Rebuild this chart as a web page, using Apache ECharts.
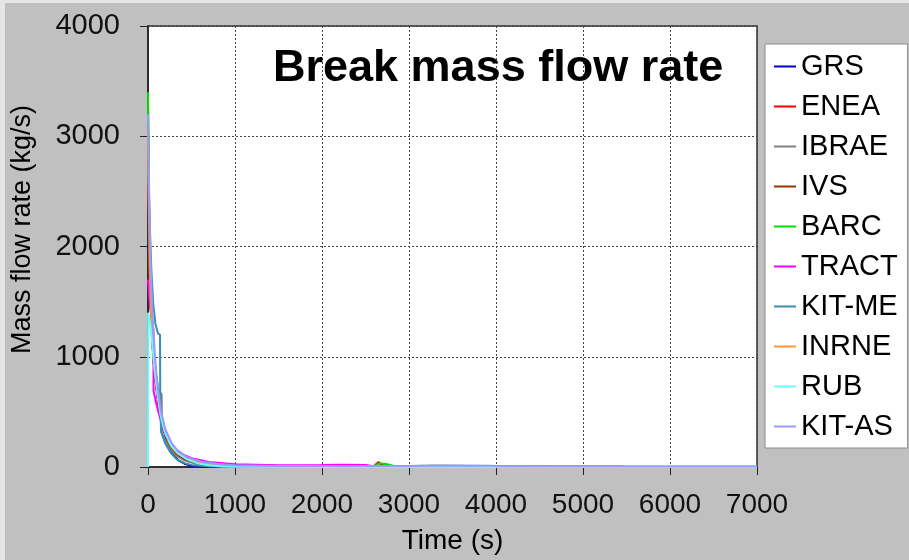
<!DOCTYPE html>
<html>
<head>
<meta charset="utf-8">
<script src="https://cdn.jsdelivr.net/npm/echarts@6/dist/echarts.min.js"></script>
<style>
  html, body { margin: 0; padding: 0; background: #c0c0c0; }
  #chart { width: 909px; height: 560px; }
</style>
</head>
<body>
<div id="chart"></div>
<script>
// time (s) / mass flow rate (kg/s) pairs
const GRS = [[0,3000],[6,2600],[14,2100],[26,1600],[45,1200],[70,900],[100,700],[130,520],[170,360],[220,220],[280,120],[350,60],[420,30],[500,12],[650,4],[1000,2],[2000,1],[4000,1],[6000,0],[7000,0]];
const ENEA = [[0,3100],[8,2500],[18,1900],[35,1400],[60,1000],[95,720],[130,500],[180,330],[250,200],[330,120],[420,75],[550,40],[750,18],[1000,10],[1500,6],[2000,8],[2400,10],[2600,12],[2650,45],[2680,20],[2800,5],[3200,3],[4000,2],[5000,1]];
const IBRAE = [[0,3300],[8,2700],[16,2100],[30,1600],[55,1150],[90,850],[120,700],[157,660],[160,300],[200,240],[260,160],[330,100],[420,60],[550,30],[750,12],[1000,6],[2000,5],[3000,8],[3300,14],[3600,12],[3700,6],[4500,4],[5500,3]];
const IVS = [[0,2900],[7,2300],[20,1700],[40,1250],[65,950],[100,700],[140,480],[190,320],[250,200],[330,120],[420,70],[550,35],[750,15],[1000,8],[2000,5],[3000,4],[4000,5],[4470,5],[5450,5]];
const BARC = [[0,3400],[3,3200],[10,2600],[22,2000],[40,1450],[65,1050],[100,760],[140,520],[190,350],[250,230],[330,150],[440,80],[560,45],[750,20],[1000,10],[1500,6],[2000,5],[2600,8],[2660,35],[2750,25],[2860,3],[3500,4],[4200,6],[4470,6],[4500,2]];
const TRACT = [[0,1700],[10,1600],[25,1450],[45,1320],[62,1250],[64,690],[100,560],[150,410],[200,290],[300,175],[400,115],[500,80],[700,45],[1000,24],[1500,15],[2000,18],[2200,20],[2500,18],[2600,6],[3000,4],[4000,3]];
const KIT_ME = [[0,2700],[18,2250],[38,1800],[60,1480],[85,1300],[115,1210],[138,1200],[141,600],[150,320],[200,210],[260,130],[330,70],[420,35],[520,15],[700,6],[1000,3],[2000,2],[4000,1],[7000,1]];
const INRNE = [[0,3050],[8,2450],[20,1800],[40,1300],[65,960],[100,720],[140,500],[190,330],[250,210],[330,130],[430,80],[560,45],[750,20],[1000,10],[2000,5],[3000,4],[4500,4],[5450,4]];
const RUB = [[0,0],[2,1400],[20,1330],[45,1150],[75,900],[110,650],[150,450],[200,300],[270,190],[350,120],[450,70],[560,35],[700,15],[850,5],[1000,2],[2000,1],[4000,0],[7000,0]];
const KIT_AS = [[0,3200],[10,2650],[22,2100],[38,1650],[60,1250],[85,950],[115,700],[150,500],[200,340],[270,220],[350,140],[450,90],[600,50],[800,28],[1000,16],[1500,10],[2000,8],[3000,8],[3700,13],[3930,11],[4100,7],[5000,6],[7000,6]];

const names = ["GRS", "ENEA", "IBRAE", "IVS", "BARC", "TRACT", "KIT-ME", "INRNE", "RUB", "KIT-AS"];
const datasets = [GRS, ENEA, IBRAE, IVS, BARC, TRACT, KIT_ME, INRNE, RUB, KIT_AS];
const colors = ["#0000cc", "#ff0000", "#808080", "#993300", "#00dd00", "#ff00ff", "#3a8fb0", "#ff9933", "#66ffff", "#9999ff"];

const font = "Liberation Sans, Arial, sans-serif";

let chart = echarts.init(document.getElementById("chart"));
let option = {
  animation: false,
  backgroundColor: "#c0c0c0",
  color: colors,
  graphic: [
    { type: "rect", left: 0, top: 0, shape: { width: 909, height: 3 }, style: { fill: "#e6e6e6" } },
    { type: "rect", left: 0, top: 0, shape: { width: 5, height: 560 }, style: { fill: "#e6e6e6" } }
  ],
  title: {
    text: "Break mass flow rate",
    left: 273,
    top: 46,
    padding: 0,
    textStyle: { fontFamily: font, fontSize: 45, fontWeight: "bold", color: "#000" }
  },
  legend: {
    orient: "vertical",
    left: 765,
    top: 44,
    padding: [8, 10, 7, 9],
    itemGap: 11,
    itemWidth: 22,
    itemHeight: 2,
    icon: "rect",
    backgroundColor: "#fff",
    borderColor: "#8a8a8a",
    borderWidth: 1,
    borderRadius: 0,
    textStyle: { fontFamily: font, fontSize: 29, color: "#000", lineHeight: 28 },
    data: names
  },
  grid: {
    left: 148,
    right: 152,
    top: 26,
    bottom: 92,
    show: true,
    backgroundColor: "#fff",
    borderColor: "#333",
    borderWidth: 1.5
  },
  xAxis: {
    type: "value",
    min: 0,
    max: 7000,
    interval: 1000,
    name: "Time (s)",
    nameLocation: "middle",
    nameGap: 60,
    nameTextStyle: { fontFamily: font, fontSize: 28, color: "#000" },
    axisLine: { show: true, lineStyle: { color: "#222", width: 1.5 } },
    axisTick: { show: true, length: 8, lineStyle: { color: "#222" } },
    axisLabel: { margin: 24, fontFamily: font, fontSize: 28, color: "#111", formatter: function(v) { return String(v); } },
    splitLine: { show: true, lineStyle: { color: "#444", type: [2, 2], width: 1 } }
  },
  yAxis: {
    type: "value",
    min: 0,
    max: 4000,
    interval: 1000,
    name: "Mass flow rate (kg/s)",
    nameLocation: "middle",
    nameGap: 112,
    nameTextStyle: { fontFamily: font, fontSize: 27, color: "#000", padding: [0, 0, 0, 34] },
    axisLine: { show: true, lineStyle: { color: "#222", width: 1.5 } },
    axisTick: { show: true, length: 8, lineStyle: { color: "#222" } },
    axisLabel: { margin: 28, fontFamily: font, fontSize: 29, color: "#111", formatter: function(v) { return String(v); } },
    splitLine: { show: true, lineStyle: { color: "#444", type: [2, 2], width: 1 } }
  },
  series: names.map(function(name, i) {
    return {
      name: name,
      type: "line",
      data: datasets[i],
      showSymbol: false,
      symbol: "none",
      lineStyle: { width: 2 },
      z: 2 + i
    };
  })
};
chart.setOption(option);
</script>
</body>
</html>
